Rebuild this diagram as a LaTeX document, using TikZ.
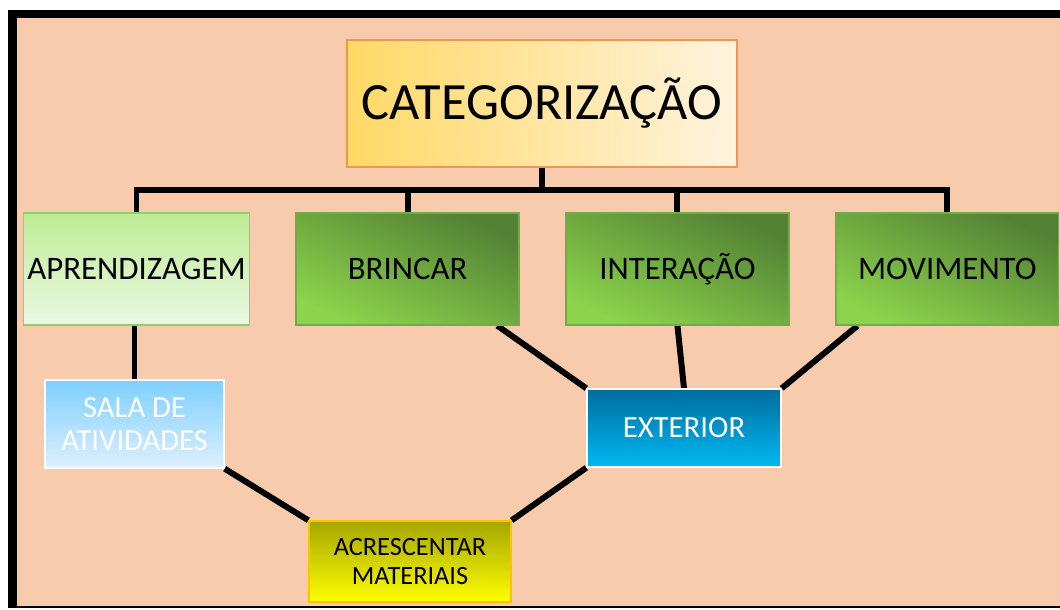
\documentclass[tikz,border=0pt]{standalone}
\usepackage{fontspec}
\setmainfont{Carlito}
\usepackage{xcolor}
\usepackage{tikz}
\usetikzlibrary{positioning, calc, backgrounds}
\definecolor{CatPeach}{RGB}{248, 203, 173}
\definecolor{CatGold}{RGB}{255, 217, 102}
\definecolor{CatCream}{RGB}{255, 243, 222}
\definecolor{CatOrange}{RGB}{240, 150, 80}
\definecolor{CatLimeTop}{RGB}{189, 237, 149}
\definecolor{CatLimeBottom}{RGB}{234, 248, 228}
\definecolor{CatLimeLine}{RGB}{143, 207, 112}
\definecolor{CatGreenDark}{RGB}{83, 129, 53}
\definecolor{CatGreenLight}{RGB}{140, 212, 75}
\definecolor{CatGreenLine}{RGB}{112, 173, 71}
\definecolor{CatSkyTop}{RGB}{126, 207, 255}
\definecolor{CatSkyBottom}{RGB}{221, 240, 253}
\definecolor{CatBlueTop}{RGB}{0, 108, 158}
\definecolor{CatBlueBottom}{RGB}{0, 186, 242}
\definecolor{CatOlive}{RGB}{165, 165, 0}
\definecolor{CatYellow}{RGB}{255, 255, 0}
\definecolor{CatAmber}{RGB}{255, 192, 0}

\tikzset{
    catbox/.style={draw, line width=0.8pt, align=center, inner sep=2pt},
    rowbox/.style={catbox, minimum width=4.46cm, minimum height=2.24cm,
        font=\fontsize{18.7}{22}\selectfont},
    greenbox/.style={rowbox, draw=CatGreenLine, top color=CatGreenDark,
        bottom color=CatGreenLight, shading angle=-25},
    link/.style={line width=3.4pt, black}
}

\begin{document}
\begin{tikzpicture}[x=0.02cm, y=-0.02cm]
        \useasboundingbox (0,0) rectangle (1060,609);
        % Frame
        \begin{scope}[on background layer]
            \fill[black] (8,10) rectangle (1060,608);
            \fill[CatPeach] (17,18) rectangle (1060,606);
        \end{scope}

        % Root
        \node[catbox, draw=CatOrange, left color=CatGold, right color=CatCream,
            minimum width=7.8cm, minimum height=2.54cm,
            font=\fontsize{29.8}{34}\selectfont] (top) at (542,103.5) {CATEGORIZAÇÃO};

        % Categories
        \node[rowbox, draw=CatLimeLine, top color=CatLimeTop, bottom color=CatLimeBottom]
            (apr) at (136.5,269) {APRENDIZAGEM};
        \node[greenbox, right=0.91cm of apr] (brincar) {BRINCAR};
        \node[greenbox, right=0.91cm of brincar] (interacao) {INTERAÇÃO};
        \node[greenbox, right=0.91cm of interacao] (movimento) {MOVIMENTO};

        % Places
        \node[catbox, draw=white, top color=CatSkyTop, bottom color=CatSkyBottom, text=white,
            minimum width=3.58cm, minimum height=1.76cm,
            font=\fontsize{17.4}{18.5}\selectfont] (sala) at (134.5,424) {SALA DE\\ATIVIDADES};
        \node[catbox, draw=white, top color=CatBlueTop, bottom color=CatBlueBottom, text=white,
            minimum width=3.88cm, minimum height=1.56cm,
            font=\fontsize{17.5}{20}\selectfont] (exterior) at (684,428) {EXTERIOR};
        \node[catbox, draw=CatAmber, top color=CatOlive, bottom color=CatYellow,
            minimum width=4.04cm, minimum height=1.62cm,
            font=\fontsize{15}{16}\selectfont] (materiais) at (410,561.5) {ACRESCENTAR\\MATERIAIS};

        % Links
        \begin{scope}[on background layer]
            \coordinate (bus) at (542,190);
            \draw[link] (top.south) -- (bus);
            \foreach \n in {apr, brincar, interacao, movimento}
                \draw[link] (\n.north) |- (bus);
            \draw[link] (sala.north |- apr.south) -- (sala.north);
            \draw[link] (sala.south east) -- (materiais.north west);
            \draw[link] (exterior.south west) -- (materiais.north east);
            \draw[link] ($(brincar.south east)!0.1!(brincar.south west)$) -- (exterior.north west);
            \draw[link] (interacao.south) -- (exterior.north);
            \draw[link] ($(movimento.south west)!0.1!(movimento.south east)$) -- (exterior.north east);
        \end{scope}
    \end{tikzpicture}
\end{document}
